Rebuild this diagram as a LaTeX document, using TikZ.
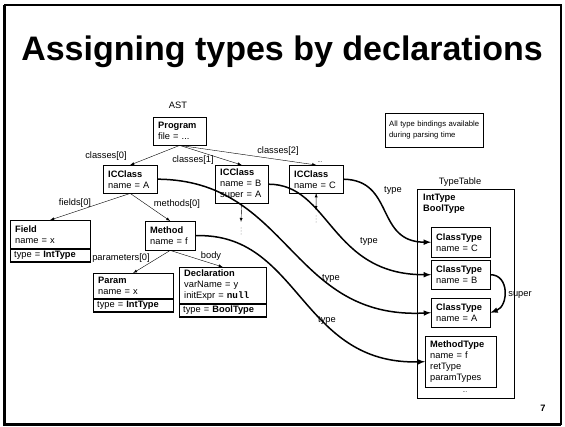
\documentclass[tikz,border=0pt]{standalone}
\usepackage{fontspec}
\setmainfont{Liberation Sans}
\setmonofont{Liberation Mono}
\usetikzlibrary{arrows, positioning}

\newcommand\astfont{\fontsize{9.3}{11}\selectfont}
\newcommand\notefont{\fontsize{7.7}{11.5}\selectfont}
\newcommand\titlefont{\bfseries\fontsize{34}{36}\selectfont}

\begin{document}
\begin{tikzpicture}[x=1pt, y=-1pt,
    astbox/.style={draw, fill=white, anchor=north west, align=left, inner xsep=5pt, inner ysep=1pt, font=\astfont},
    typerow/.style={draw, line width=1.2pt, align=left, inner xsep=4pt, inner ysep=1pt, minimum height=13pt, font=\astfont},
    lbl/.style={font=\astfont, inner sep=0pt},
    dots/.style={font=\fontsize{6}{6}\selectfont, inner sep=0pt},
    bind/.style={-latex, line width=1.5pt},
]
\useasboundingbox (0,0) rectangle (565,427);
% slide frame
\draw[line width=1.6pt] (5,5) rectangle (561,424);
\draw[line width=1.6pt] (4,5) -- (4,425) -- (561,425);

\node[font=\titlefont] (title) at (282,52) {Assigning types by declarations};

% AST
\node[lbl] (ast) at (178,105) {AST};
\node[astbox, text width=43pt, minimum height=28pt] (prog) at (153,117) {\textbf{Program}\\file = ...};
\node[astbox, text width=44pt, minimum height=28pt] (iccA) at (103,165) {\textbf{ICClass}\\name = A};
\node[astbox, text width=43pt, minimum height=38pt] (iccB) at (215,165) {\textbf{ICClass}\\name = B\\super = A};
\node[astbox, text width=44pt, minimum height=28pt] (iccC) at (289,165) {\textbf{ICClass}\\name = C};
\node[dots] (cdots) at (320,162) {...};

\node[astbox, text width=70pt, minimum height=28pt] (field) at (10,220) {\textbf{Field}\\name = x};
\node[typerow, text width=72pt, below=0pt of field] (fieldty) {type = \textbf{IntType}};
\node[astbox, text width=40pt, minimum height=29pt] (meth) at (145,221) {\textbf{Method}\\name = f};
\node[astbox, text width=70pt, minimum height=25pt] (param) at (93,273) {\textbf{Param}\\name = x};
\node[typerow, text width=72pt, below=0pt of param] (paramty) {type = \textbf{IntType}};
\node[astbox, text width=77pt, minimum height=36pt] (decl) at (179,267) {\textbf{Declaration}\\varName = y\\initExpr = \texttt{\textbf{null}}};
\node[typerow, text width=79pt, below=0pt of decl] (declty) {type = \textbf{BoolType}};

\coordinate (bdown) at (241,222);
\coordinate (cdown) at (316,210);
\coordinate (bdots) at (241,228);
\coordinate (cdots2) at (316,216);
\foreach \k in {0,1,2} {
    \fill[gray] (bdots) ++(0,\k*3) circle (0.5pt);
    \fill[gray] (cdots2) ++(0,\k*3) circle (0.5pt);
}

\draw[-latex]
    (prog.south) edge (iccA.north)
    (prog.south) edge (iccB.north)
    (prog.south) edge (iccC.north)
    (iccA.south) edge (field.north)
    (iccA.south) edge (meth.north)
    (meth.south) edge (param.north)
    (meth.south) edge (decl.north)
    (iccB.south) edge (bdown)
    (iccC.south) edge (cdown);

\node[lbl] (lcls0) at (106,156) {classes[0]};
\node[lbl] (lcls1) at (193,160) {classes[1]};
\node[lbl] (lcls2) at (278,151) {classes[2]};
\node[lbl] (lfld) at (75,203) {fields[0]};
\node[lbl] (lmth) at (177,204) {methods[0]};
\node[lbl] (lpar) at (121,258) {parameters[0]};
\node[lbl] (lbody) at (211,256) {body};

% note
\node[astbox, font=\notefont, inner xsep=4pt, text width=90pt, minimum height=34pt] (note) at (385,113) {All type bindings available\\during parsing time};

% type table
\node[lbl] (ttl) at (460,182) {TypeTable};
\node[draw, anchor=north west, minimum width=97pt, minimum height=209pt] (table) at (417,189) {};
\node[lbl, anchor=north west, align=left, font=\astfont\bfseries] (prims) at (423,194) {IntType\\BoolType};
\node[astbox, text width=49pt, minimum height=30pt] (ctC) at (431,227) {\textbf{ClassType}\\name = C};
\node[astbox, text width=49pt, minimum height=29pt] (ctB) at (431,260) {\textbf{ClassType}\\name = B};
\node[astbox, text width=49pt, minimum height=29pt] (ctA) at (431,298) {\textbf{ClassType}\\name = A};
\node[astbox, text width=61pt, minimum height=51pt] (mt) at (425,336) {\textbf{MethodType}\\name = f\\retType\\paramTypes};
\node[dots] (mtdots) at (465,392) {...};

% type bindings
\draw[bind] (iccC.east) .. controls (395,180) and (375,242) .. (ctC.west);
\draw[bind] (iccB.east) .. controls (330,184) and (330,275) .. (ctB.west);
\draw[bind] (iccA.east) .. controls (290,180) and (290,320) .. (ctA.west);
\draw[bind] (meth.east) .. controls (300,232) and (300,365) .. (mt.west);
\draw[bind] (ctB.east) to[out=0, in=20, looseness=1.3] (ctA.east);

\node[lbl] (tyC) at (393,190) {type};
\node[lbl] (tyB) at (369,241) {type};
\node[lbl] (tyA) at (331,278) {type};
\node[lbl] (tyM) at (327,320) {type};
\node[lbl] (lsup) at (520,295) {super};

\node[lbl, font=\astfont\bfseries] (pg) at (543,408) {7};
\end{tikzpicture}
\end{document}
